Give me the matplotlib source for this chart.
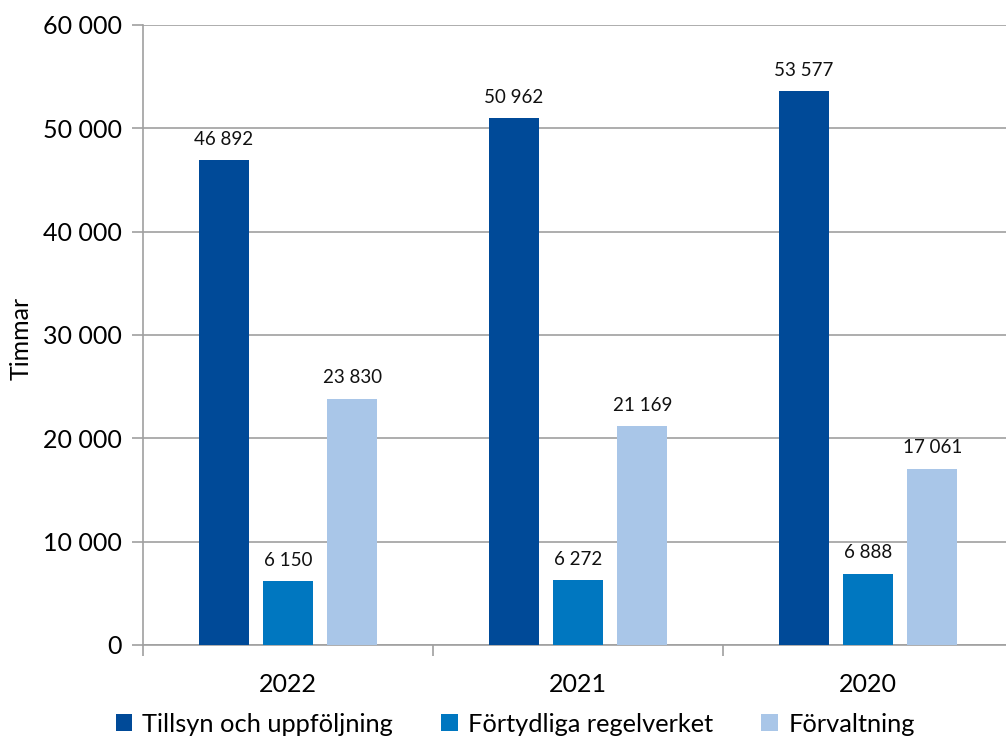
import numpy as np
import matplotlib
matplotlib.use("Agg")
import matplotlib.pyplot as plt
from matplotlib.ticker import FuncFormatter

plt.rcParams["font.family"] = ["Lato", "DejaVu Sans"]

years = ["2022", "2021", "2020"]
series_names = ["Tillsyn och uppföljning", "Förtydliga regelverket", "Förvaltning"]
tillsyn = [46892, 50962, 53577]
fortydliga = [6150, 6272, 6888]
forvaltning = [23830, 21169, 17061]
colors = ["#004A98", "#0077C0", "#A9C6E8"]

W, H = 1006, 738
fig = plt.figure(figsize=(W / 100, H / 100), dpi=100)
ax = fig.add_axes([143 / W, 1 - 645 / H, 870 / W, (645 - 25) / H])

x = np.arange(len(years))
width = 0.172
offset = 0.222


def fmt(v):
    return f"{v:,.0f}".replace(",", " ")


for i, (vals, name, c) in enumerate(zip([tillsyn, fortydliga, forvaltning], series_names, colors)):
    pos = x + (i - 1) * offset
    bars = ax.bar(pos, vals, width, color=c, label=name, zorder=3)
    for b, v in zip(bars, vals):
        ax.text(b.get_x() + b.get_width() / 2, v + 1200, fmt(v), ha="center", va="bottom",
                fontsize=13.5, color="#111111")

ax.set_xlim(-0.5, len(years) - 0.5)
ax.set_ylim(0, 60000)
ax.set_yticks(np.arange(0, 60001, 10000))
ax.yaxis.set_major_formatter(FuncFormatter(lambda v, p: fmt(v)))
ax.set_xticks(x)
ax.set_xticklabels(years)
ax.set_xticks(np.arange(-0.5, len(years)), minor=True)
ax.tick_params(axis="x", which="major", length=0, labelsize=18, pad=20)
ax.tick_params(axis="x", which="minor", length=8, color="#A0A0A0", width=1.2, direction="out")
ax.tick_params(axis="y", length=8, color="#A0A0A0", width=1.2, labelsize=18, pad=7)
ax.grid(axis="y", color="#A0A0A0", linewidth=1.2, zorder=0)
for s in ["top", "right"]:
    ax.spines[s].set_visible(False)
for s in ["left", "bottom"]:
    ax.spines[s].set_color("#A0A0A0")
    ax.spines[s].set_linewidth(1.2)

fig.text(21 / W, 1 - 338 / H, "Timmar", rotation=90, ha="center", va="center", fontsize=18)

fig.legend(loc="center", bbox_to_anchor=(0.512, 1 - 724 / H), ncol=3, frameon=False,
           fontsize=18.3, handlelength=0.65, handleheight=0.65, handletextpad=0.4,
           columnspacing=1.9, borderaxespad=0, borderpad=0)

fig.savefig("out.png", dpi=100)
